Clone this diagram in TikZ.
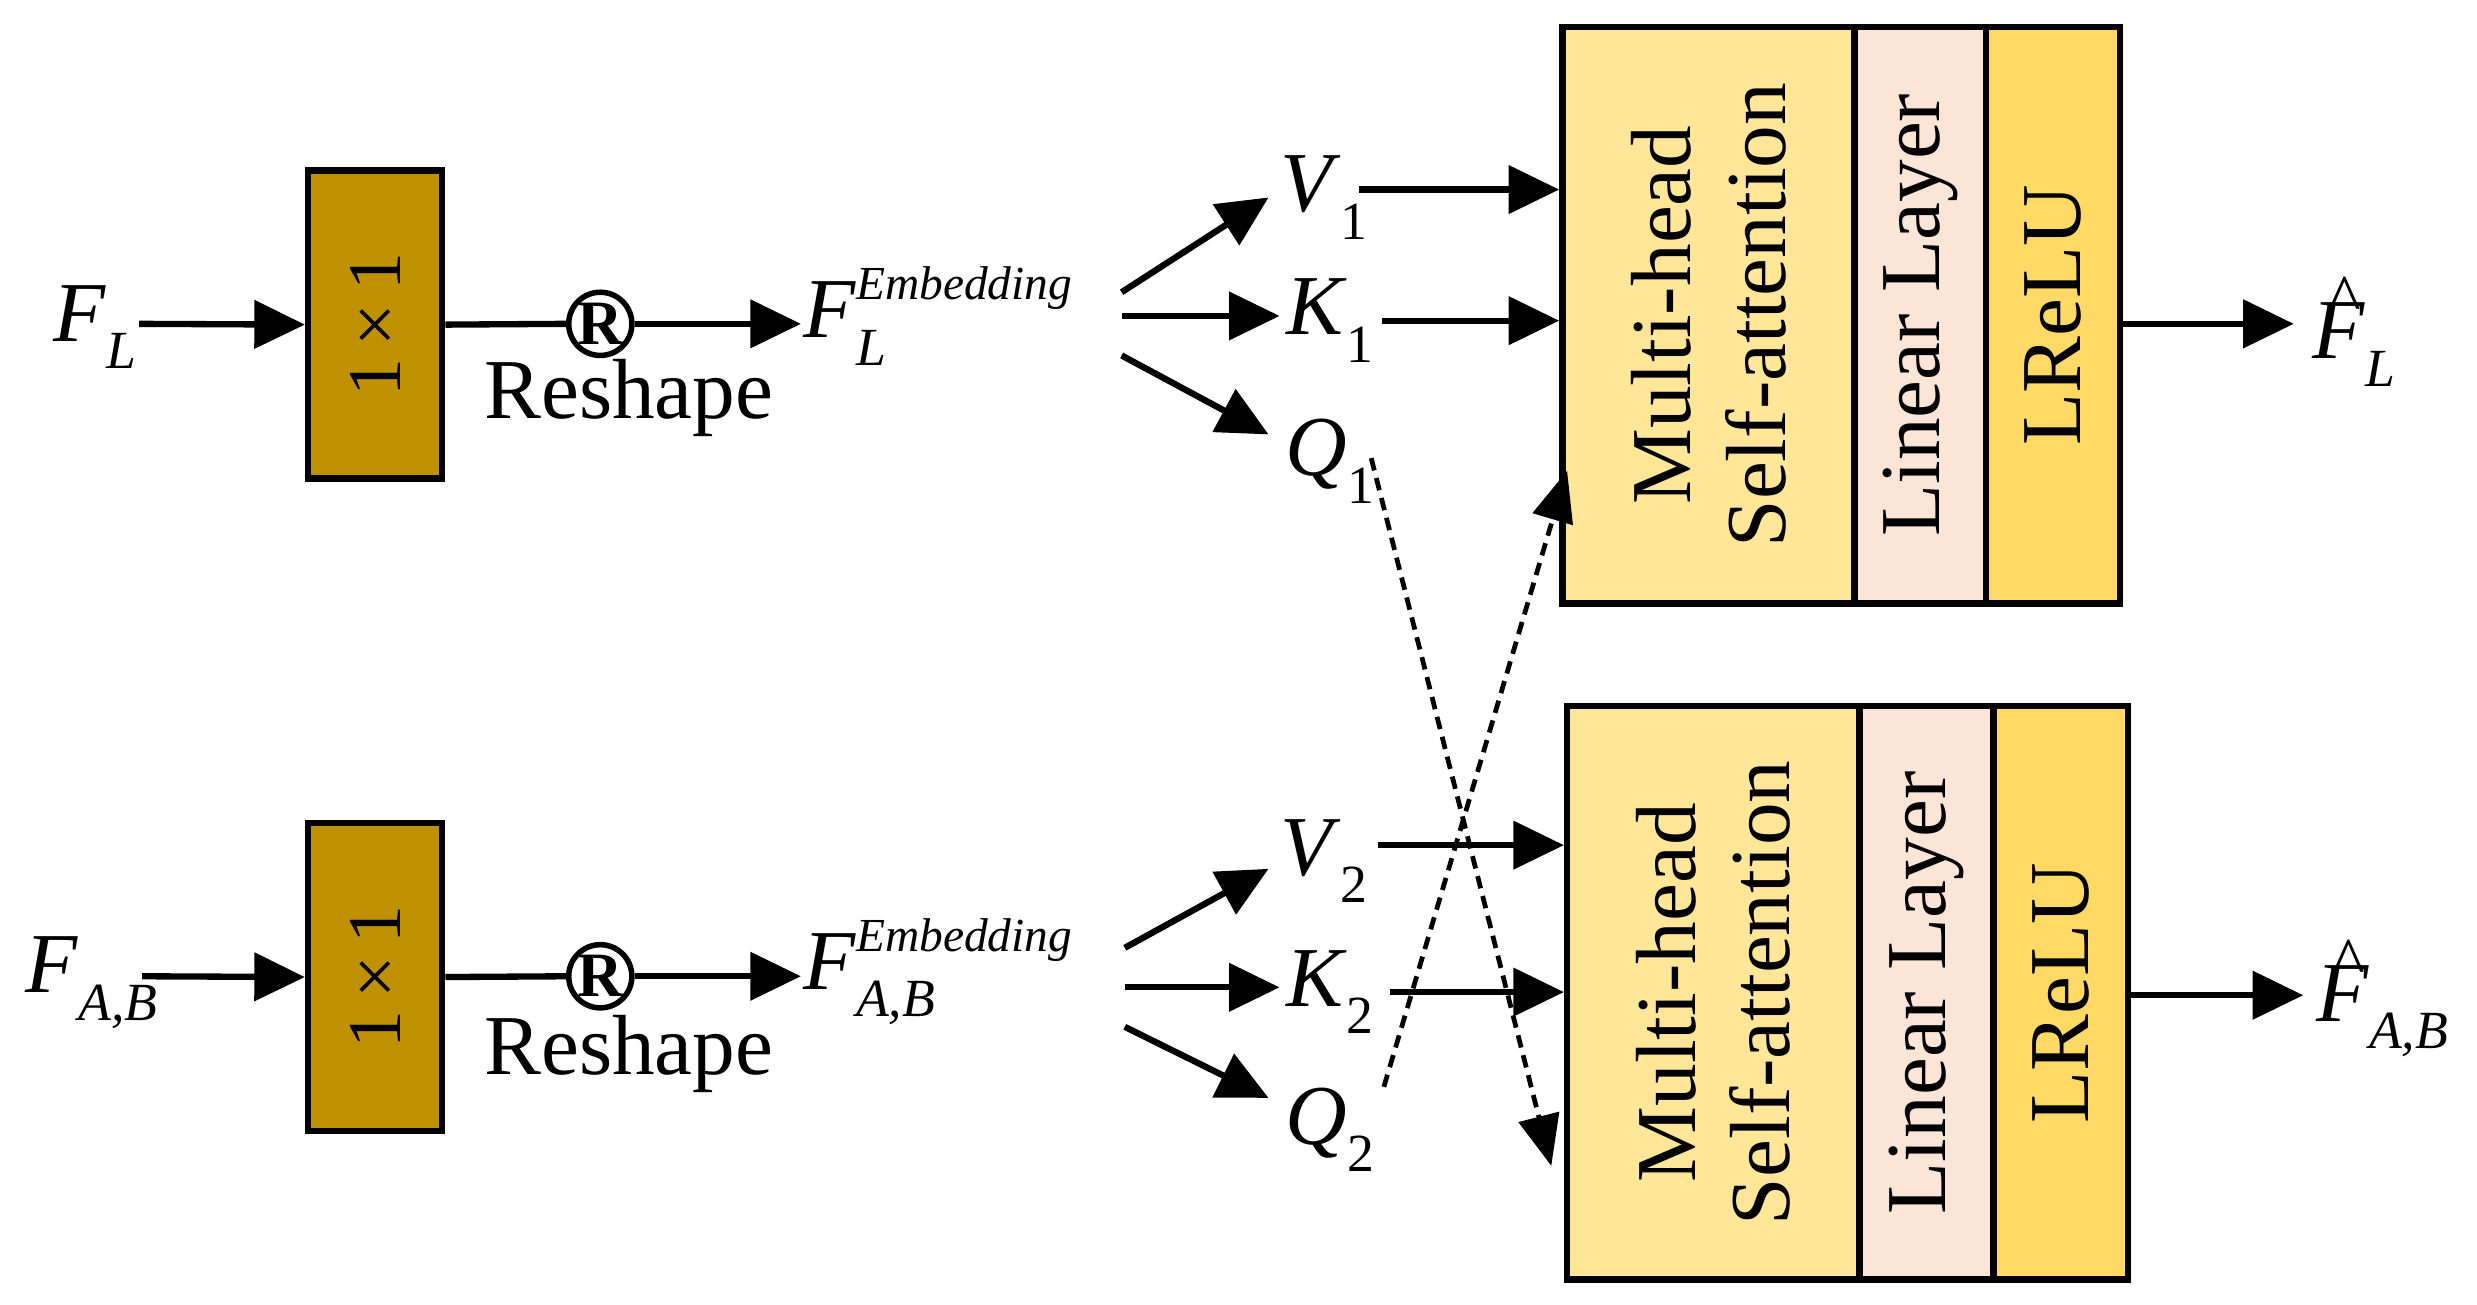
\documentclass[tikz,border=0pt]{standalone}
\usepackage{fontspec}
\setmainfont{Liberation Serif}
\usetikzlibrary{arrows.meta}
\newcommand{\myvar}[2]{\textit{#1}\raisebox{-0.32em}{\fontsize{34}{36}\selectfont\textit{#2}}}
\newcommand{\myhat}[1]{\textit{F}\llap{\raisebox{0.42em}{\fontsize{44}{46}\selectfont\textasciicircum}\hspace{0.05em}}\raisebox{-0.32em}{\fontsize{34}{36}\selectfont\textit{#1}}}
\newcommand{\mynum}[2]{\textit{#1}\raisebox{-0.32em}{\fontsize{34}{36}\selectfont #2}}
\newcommand{\myemb}[2]{\textit{#1}\rlap{\raisebox{-0.32em}{\fontsize{34}{36}\selectfont\textit{#2}}}\raisebox{0.45em}{\fontsize{30}{32}\selectfont\textit{Embedding}}}
\begin{document}
\begin{tikzpicture}[x=1pt,y=-1pt,
  ln/.style={line width=4pt},
  ar/.style={line width=4pt,-{Triangle[length=32pt,width=30pt]}},
  da/.style={line width=3pt,dashed,dash pattern=on 8pt off 5pt,-{Triangle[length=32pt,width=26pt]}},
  conv/.style={draw,line width=4pt,fill=convc,minimum width=85pt,minimum height=195pt,inner sep=0},
  sec/.style={draw,line width=4pt,inner sep=0,anchor=north west},
  lab/.style={font=\fontsize{54}{60}\selectfont},
  sm/.style={font=\fontsize{54}{60}\selectfont},
  rt/.style={rotate=90,font=\fontsize{54}{60}\selectfont,align=center},
  rc/.style={circle,draw,line width=3.5pt,minimum size=40pt,inner sep=0,font=\bfseries\fontsize{40}{42}\selectfont}]
\definecolor{convc}{HTML}{BF9000}
\definecolor{c1}{HTML}{FFE699}
\definecolor{c2}{HTML}{FBE5D6}
\definecolor{c3}{HTML}{FFD966}
\useasboundingbox (0,0) rectangle (1568,826);
% ---- top row ----
\node[lab] (FL) at (60,207) {\myvar{F}{L}};
\node[conv] (c1) at (237.5,205.5) {\rotatebox{90}{\fontsize{48}{56}\selectfont 1\,\texttimes\,1}};
\node[rc] (R1) at (380,205) {R};
\node[sm] at (398,252) {Reshape};
\node[lab,anchor=west] (E1) at (505,200) {\myemb{F}{L}};
\node[lab] (V1) at (838,125) {\mynum{V}{1}};
\node[lab] (K1) at (842,203) {\mynum{K}{1}};
\node[lab] (Q1) at (842,292) {\mynum{Q}{1}};
\draw[ar] (88,205) -- (c1.west);
\draw[ln] (c1.east) -- (R1.west);
\draw[ar] (R1.east) -- (507,205);
\draw[ar] (710,185) -- (803,125);
\draw[ar] (710,200) -- (810,200);
\draw[ar] (710,225) -- (803,275);
\node[sec,fill=c1,minimum width=185pt,minimum height=365pt] (M1) at (987,15) {};
\node[sec,fill=c2,minimum width=83pt,minimum height=365pt] (L1) at (1172,15) {};
\node[sec,fill=c3,minimum width=85pt,minimum height=365pt] (U1) at (1255,15) {};
\node[rt] at (M1.center) {Multi-head\\Self-attention};
\node[rt] at (L1.center) {Linear Layer};
\node[rt] at (U1.center) {LReLU};
\draw[ar] (860,120) -- (987,120);
\draw[ar] (875,203) -- (987,203);
\draw[ar] (1340,205) -- (1452,205);
\node[lab] (O1) at (1490,210) {\myhat{L}};
% ---- bottom row ----
\node[lab] (FA) at (58,622) {\myvar{F}{A,B}};
\node[conv] (c2) at (237.5,618.5) {\rotatebox{90}{\fontsize{48}{56}\selectfont 1\,\texttimes\,1}};
\node[rc] (R2) at (380,618) {R};
\node[sm] at (398,667) {Reshape};
\node[lab,anchor=west] (E2) at (505,615) {\myemb{F}{A,B}};
\node[lab] (V2) at (838,545) {\mynum{V}{2}};
\node[lab] (K2) at (842,628) {\mynum{K}{2}};
\node[lab] (Q2) at (842,715) {\mynum{Q}{2}};
\draw[ar] (90,618) -- (c2.west);
\draw[ln] (c2.east) -- (R2.west);
\draw[ar] (R2.east) -- (507,618);
\draw[ar] (712,600) -- (803,550);
\draw[ar] (712,625) -- (810,625);
\draw[ar] (712,650) -- (803,695);
\node[sec,fill=c1,minimum width=185pt,minimum height=363pt] (M2) at (990,445) {};
\node[sec,fill=c2,minimum width=85pt,minimum height=363pt] (L2) at (1175,445) {};
\node[sec,fill=c3,minimum width=85pt,minimum height=363pt] (U2) at (1260,445) {};
\node[rt] at (M2.center) {Multi-head\\Self-attention};
\node[rt] at (L2.center) {Linear Layer};
\node[rt] at (U2.center) {LReLU};
\draw[ar] (872,535) -- (990,535);
\draw[ar] (880,628) -- (990,628);
\draw[ar] (1345,630) -- (1458,630);
\node[lab] (O2) at (1508,632) {\myhat{A,B}};
% ---- cross dashed ----
\draw[da] (868,290) -- (982,738);
\draw[da] (876,688) -- (992,298);
\end{tikzpicture}
\end{document}
